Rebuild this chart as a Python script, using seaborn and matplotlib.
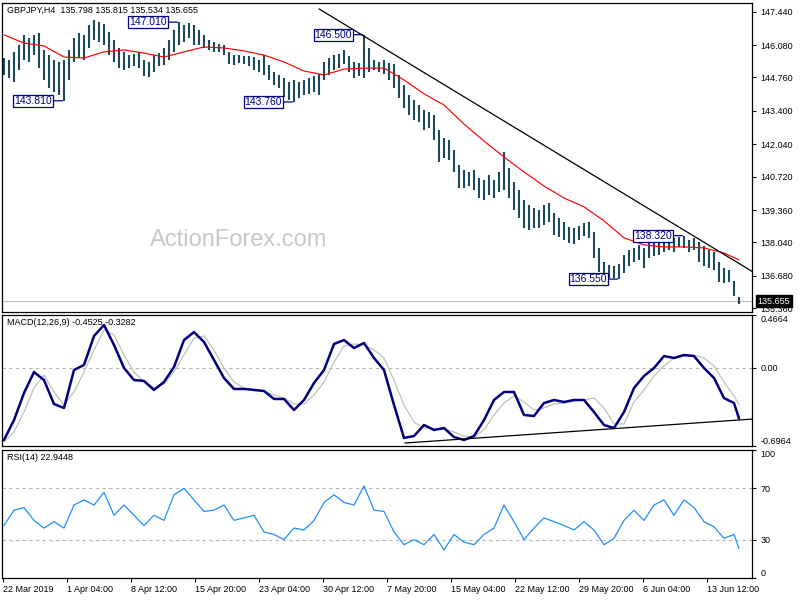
import numpy as np
import pandas as pd
import matplotlib
matplotlib.use("Agg")
import matplotlib.pyplot as plt
import seaborn as sns

sns.set_theme(style="white")
plt.rcParams['font.family'] = ['Liberation Sans', 'DejaVu Sans']

# ---------------- data ----------------
highs = [145.55,145.47,145.80,146.08,146.49,146.37,146.49,146.57,145.88,145.67,
         145.47,145.39,145.47,145.88,146.37,146.57,146.49,146.89,147.10,147.02,
         146.94,146.61,146.28,145.96,145.80,145.67,145.71,145.80,145.47,145.39,
         145.67,145.75,145.96,146.28,146.69,147.01,146.89,146.98,146.89,146.69,
         146.49,146.28,146.20,146.12,146.08,145.80,145.67,145.67,145.63,145.63,
         145.59,145.47,145.67,145.27,144.98,144.86,144.74,144.57,144.66,144.57,
         144.66,144.74,144.82,144.90,145.39,145.55,145.67,145.71,145.88,145.63,
         145.39,145.35,146.50,145.96,145.47,145.39,145.47,145.35,145.31,144.86,
         144.45,144.05,143.84,143.64,143.43,143.35,143.23,142.62,142.30,142.21,
         141.81,141.20,140.99,140.91,140.99,140.67,140.59,140.79,140.59,140.91,
         141.73,141.07,140.50,140.18,139.77,139.57,139.45,139.37,139.57,139.65,
         139.24,139.04,138.88,138.67,138.63,138.71,138.83,138.88,138.47,137.82,
         137.25,137.13,137.09,137.15,137.53,137.74,137.82,137.94,137.82,138.14,
         138.23,138.14,138.31,138.28,138.23,138.27,138.32,138.14,138.23,138.06,
         137.90,137.74,137.66,137.25,137.00,136.92,136.48,135.815]
lows = [144.86,144.74,144.57,145.06,145.47,145.39,145.67,145.14,144.66,144.33,
        144.17,144.05,143.81,144.66,145.39,145.55,145.47,145.96,146.28,146.20,
        146.08,145.67,145.39,145.14,145.06,145.14,145.23,145.14,144.82,144.78,
        144.98,145.23,145.27,145.47,145.80,146.08,146.20,146.37,146.08,146.08,
        145.96,145.88,145.80,145.80,145.67,145.31,145.27,145.35,145.31,145.23,
        145.06,144.98,144.86,144.66,144.45,144.33,143.96,143.84,143.76,143.92,
        144.05,144.09,144.17,144.05,144.66,144.86,145.06,145.14,145.31,144.98,
        144.74,144.82,144.74,144.98,145.06,144.98,144.90,144.66,144.33,143.92,
        143.52,143.23,143.03,142.95,142.62,142.70,142.21,141.32,141.48,141.40,
        140.91,140.26,140.26,140.34,140.18,139.85,139.77,139.98,139.85,140.10,
        140.18,139.85,139.37,139.04,138.63,138.55,138.63,138.63,138.75,138.88,
        138.35,138.27,138.14,138.02,137.98,138.14,138.31,138.23,137.41,136.84,
        136.62,136.60,136.58,136.55,136.80,137.09,137.25,137.33,137.00,137.41,
        137.49,137.53,137.66,137.74,137.66,137.86,137.82,137.66,137.74,137.25,
        137.09,137.00,136.92,136.43,136.39,136.43,135.87,135.534]

# 50-period moving average, sampled every 4 bars plus the last bar
ma_vals = [146.49,146.16,146.04,145.59,145.55,145.80,145.88,145.75,145.59,145.80,
           146.00,145.96,145.84,145.67,145.39,145.02,144.86,145.10,145.14,145.14,
           144.66,144.09,143.64,142.86,142.17,141.52,140.91,140.34,139.85,139.49,
           138.92,138.23,137.94,137.86,137.86,137.82,137.61,137.33]

# MACD main / signal, sampled every 2 bars plus the last bar
macd_vals = [-0.643,-0.466,-0.226,-0.040,-0.111,-0.324,-0.359,-0.022,0.023,0.280,
             0.378,0.200,-0.004,-0.111,-0.119,-0.199,-0.128,0.005,0.244,0.315,
             0.227,0.067,-0.093,-0.190,-0.190,-0.199,-0.208,-0.279,-0.279,-0.377,
             -0.288,-0.137,-0.022,0.209,0.244,0.173,0.218,0.085,-0.022,-0.332,
             -0.625,-0.608,-0.510,-0.554,-0.537,-0.617,-0.643,-0.608,-0.466,-0.288,
             -0.217,-0.217,-0.421,-0.430,-0.315,-0.288,-0.306,-0.288,-0.288,-0.395,
             -0.510,-0.537,-0.395,-0.182,-0.075,-0.004,0.102,0.085,0.111,0.102,
             -0.004,-0.093,-0.271,-0.315,-0.4525]
signal_vals = [-0.661,-0.572,-0.395,-0.182,-0.066,-0.217,-0.332,-0.217,-0.040,0.156,
               0.333,0.289,0.111,-0.040,-0.128,-0.182,-0.146,-0.040,0.111,0.262,
               0.280,0.156,-0.004,-0.128,-0.182,-0.199,-0.208,-0.244,-0.270,-0.324,
               -0.324,-0.244,-0.128,0.049,0.191,0.209,0.200,0.156,0.085,-0.111,
               -0.332,-0.484,-0.537,-0.545,-0.545,-0.572,-0.608,-0.617,-0.554,-0.421,
               -0.315,-0.253,-0.306,-0.377,-0.359,-0.324,-0.315,-0.297,-0.288,-0.270,
               -0.359,-0.501,-0.501,-0.306,-0.199,-0.075,0.014,0.085,0.102,0.111,
               0.085,0.014,-0.128,-0.253,-0.3282]
rsi_vals = [41,53,55,45,39,44,39,57,61,57,
            67,49,57,49,41,49,45,65,70,61,
            52,53,57,45,47,49,36,34,30,39,
            37.5,45,59,65,59,57,72,53,52,36,
            26,30,26,34,22,34,28,26,34,39,
            57,44,30,39,47,44,41,37.5,44,37.5,
            26,31,45,53,45,57,61,49,61,55,
            44,40,31,34,22.9448]

time_labels = ["22 Mar 2019", "1 Apr 04:00", "8 Apr 12:00", "15 Apr 20:00",
               "23 Apr 04:00", "30 Apr 12:00", "7 May 20:00", "15 May 04:00",
               "22 May 12:00", "29 May 20:00", "6 Jun 04:00", "13 Jun 12:00"]
price_ticks = [147.44, 146.08, 144.76, 143.40, 142.04, 140.72, 139.36, 138.04, 136.68, 135.36]
swing_bars = [12, 35, 58, 72, 123, 136]
swing_prices = [143.810, 147.010, 143.760, 146.500, 136.550, 138.320]
last_price = 135.655
trend_bars = [63, 149.8]
trend_prices = [147.55, 136.84]
macd_trend_bars = [80.2, 149.8]
macd_trend_vals = [-0.670, -0.457]
macd_range = [-0.6964, 0.4664]

# ---------------- derived frames ----------------
n = len(highs)
bars = pd.DataFrame({"bar": np.arange(n), "high": highs, "low": lows})
ma_idx = list(range(0, n - 3, 4)) + [n - 1]
ma_df = pd.DataFrame({"bar": ma_idx, "ma": ma_vals})
ind_idx = list(range(0, n - 1, 2)) + [n - 1]
ind_df = pd.DataFrame({"bar": ind_idx, "macd": macd_vals, "signal": signal_vals, "rsi": rsi_vals})

FS = 6.5
BAR_C = "#1b4a5e"

fig = plt.figure(figsize=(8, 6), dpi=100)
W = 750 / 800
ax1 = fig.add_axes([2 / 800, 288 / 600, W, 309 / 600])
ax2 = fig.add_axes([2 / 800, 154 / 600, W, 131 / 600], sharex=ax1)
ax3 = fig.add_axes([2 / 800, 22 / 600, W, 128 / 600], sharex=ax1)

for ax in (ax1, ax2, ax3):
    ax.set_facecolor("white")
    for s in ax.spines.values():
        s.set_color("black")
        s.set_linewidth(0.9)
    ax.yaxis.tick_right()
    ax.tick_params(axis="y", which="both", direction="out", length=3, width=0.8,
                   pad=3, labelsize=FS, colors="black", right=True, left=False)
    ax.tick_params(axis="x", bottom=False, labelbottom=False)
    ax.set_xlabel("")
    ax.set_ylabel("")

ax1.set_xlim(-0.4, 149.6)

# ---- main price panel ----
ax1.axhline(last_price, color="#c0c0c0", lw=0.9, zorder=1)
ax1.vlines(bars["bar"], bars["low"], bars["high"], color=BAR_C, lw=1.5, zorder=2)
sns.lineplot(data=ma_df, x="bar", y="ma", ax=ax1, color="#ff0000", lw=0.85, zorder=3, sort=False)
sns.lineplot(x=trend_bars, y=trend_prices, ax=ax1, color="black", lw=0.9, zorder=3)
ax1.set_ylim(135.21, 147.79)
ax1.set_yticks(price_ticks)
ax1.set_yticklabels([f"{v:.3f}" for v in price_ticks])
ax1.set_xlabel(""); ax1.set_ylabel("")
for b, p in zip(swing_bars, swing_prices):
    ax1.annotate(f"{p:.3f}", xy=(b - 0.3, p), xytext=(-7.5, 0), textcoords="offset points",
                 ha="right", va="center", fontsize=7.5, color="#000080",
                 bbox=dict(boxstyle="square,pad=0.1", fc="white", ec="#000080", lw=0.9),
                 arrowprops=dict(arrowstyle="-", color="#000080", lw=0.9, shrinkA=0, shrinkB=0),
                 zorder=5)
ax1.annotate(f"{last_price:.3f}", xy=(1.0, last_price), xycoords=("axes fraction", "data"),
             xytext=(4, 0), textcoords="offset points", ha="left", va="center",
             fontsize=FS, color="white", annotation_clip=False,
             bbox=dict(boxstyle="square,pad=0.18", fc="black", ec="black"), zorder=10)
ax1.text(0.0067, 0.977, "GBPJPY,H4  135.798 135.815 135.534 135.655", transform=ax1.transAxes,
         fontsize=FS, color="black", ha="left", va="center")
ax1.text(0.315, 0.233, "ActionForex.com", transform=ax1.transAxes, fontsize=17,
         color="#c8c8c8", ha="center", va="center", zorder=0)

# ---- MACD panel ----
ax2.axhline(0, color="#b4b4b4", lw=0.8, ls=(0, (3, 3)), zorder=1)
sns.lineplot(data=ind_df, x="bar", y="signal", ax=ax2, color="#c0c0c0", lw=0.9, zorder=2, sort=False)
sns.lineplot(data=ind_df, x="bar", y="macd", ax=ax2, color="#000080", lw=1.8, zorder=3, sort=False)
sns.lineplot(x=macd_trend_bars, y=macd_trend_vals, ax=ax2, color="black", lw=0.9, zorder=4)
ax2.set_ylim(macd_range[0], macd_range[1])
ax2.set_yticks([macd_range[1], 0.0, macd_range[0]])
ax2.set_yticklabels([f"{macd_range[1]:.4f}", "0.00", f"{macd_range[0]:.4f}"])
ylabs = ax2.get_yticklabels()
ylabs[0].set_va("top"); ylabs[2].set_va("bottom")
ax2.set_xlabel(""); ax2.set_ylabel("")
ax2.text(0.0067, 0.939, f"MACD(12,26,9) {macd_vals[-1]:.4f} {signal_vals[-1]:.4f}",
         transform=ax2.transAxes, fontsize=FS, color="black", ha="left", va="center")

# ---- RSI panel ----
for lvl in (70, 30):
    ax3.axhline(lvl, color="#b4b4b4", lw=0.8, ls=(0, (3, 3)), zorder=1)
sns.lineplot(data=ind_df, x="bar", y="rsi", ax=ax3, color="#1e90ff", lw=0.9, zorder=3, sort=False)
ax3.set_ylim(0, 100)
ax3.set_yticks([100, 70, 30, 0])
ax3.set_yticklabels(["100", "70", "30", "0"])
ylabs = ax3.get_yticklabels()
ylabs[0].set_va("top"); ylabs[3].set_va("bottom")
ax3.set_ylabel("")
ax3.text(0.0067, 0.9375, f"RSI(14) {rsi_vals[-1]:.4f}", transform=ax3.transAxes,
         fontsize=FS, color="black", ha="left", va="center")

tick_pos = [-0.2 + 12.8 * k for k in range(len(time_labels))]
ax3.set_xticks(tick_pos)
ax3.set_xticklabels(time_labels)
ax3.tick_params(axis="x", bottom=True, labelbottom=True, direction="out", length=3,
                width=0.8, pad=2, labelsize=FS, colors="black")
for lab in ax3.get_xticklabels():
    lab.set_ha("left")
ax3.set_xlabel("")
ax3.set_xlim(-0.4, 149.6)

fig.savefig("out.png", dpi=100, facecolor="white")
